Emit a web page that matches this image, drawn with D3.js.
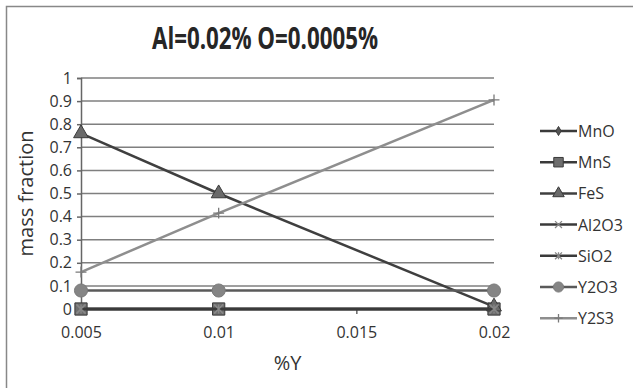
<!DOCTYPE html>
<html>
<head>
<meta charset="utf-8">
<script src="https://cdn.jsdelivr.net/npm/d3@7"></script>
<style>
  html, body { margin: 0; padding: 0; background: #fff; }
  svg { display: block; }
  text { font-family: "Open Sans", "DejaVu Sans", sans-serif; fill: #333; }
</style>
</head>
<body>
<svg id="chart" width="633" height="388"></svg>
<script>
// %Y content
const xValues = [0.005, 0.01, 0.02];
const xTicks = [0.005, 0.01, 0.015, 0.02];
const yTicks = [0, 0.1, 0.2, 0.3, 0.4, 0.5, 0.6, 0.7, 0.8, 0.9, 1];

// Mass fraction of each inclusion phase
const MnO   = [0, 0, 0];
const MnS   = [0, 0, 0];
const FeS   = [0.76, 0.50, 0.01];
const Al2O3 = [0, 0, 0];
const SiO2  = [0, 0, 0];
const Y2O3  = [0.08, 0.08, 0.08];
const Y2S3  = [0.16, 0.415, 0.905];

const seriesNames = ["MnO", "MnS", "FeS", "Al2O3", "SiO2", "Y2O3", "Y2S3"];
const seriesValues = [MnO, MnS, FeS, Al2O3, SiO2, Y2O3, Y2S3];

const styles = {
  MnO:   { line: "#3a3a3a", width: 2.5, marker: "diamond", fill: "#555", size: 40 },
  MnS:   { line: "#3a3a3a", width: 2.5, marker: "square",  fill: "#6e6e6e", size: 150 },
  FeS:   { line: "#3f3f3f", width: 2.5, marker: "triangle", fill: "#6a6a6a", size: 95 },
  Al2O3: { line: "#3a3a3a", width: 2.5, marker: "x",       fill: "none", size: 80 },
  SiO2:  { line: "#3a3a3a", width: 2.5, marker: "star",    fill: "none", size: 80 },
  Y2O3:  { line: "#5a5a5a", width: 2.5, marker: "circle",  fill: "#858585", size: 135 },
  Y2S3:  { line: "#8e8e8e", width: 2.5, marker: "plus",    fill: "none", size: 120 }
};

const svg = d3.select("#chart");

// outer frame (left and top edges shown)
svg.append("path")
  .attr("d", "M6.5,388 V6.5 H633")
  .attr("fill", "none").attr("stroke", "#888").attr("stroke-width", 1.5);

const x = d3.scaleLinear().domain([0.005, 0.02]).range([81, 494]);
const y = d3.scaleLinear().domain([0, 1]).range([309, 78]);

// title
svg.append("text")
  .attr("x", 265).attr("y", 49)
  .attr("text-anchor", "middle")
  .attr("textLength", 226).attr("lengthAdjust", "spacingAndGlyphs")
  .style("font-family", "'Open Sans', sans-serif")
  .style("font-weight", "bold").style("font-size", "30px").style("fill", "#262626")
  .text("Al=0.02% O=0.0005%");

// horizontal gridlines
svg.append("g").selectAll("line").data(yTicks.filter(d => d > 0)).join("line")
  .attr("x1", x(0.005)).attr("x2", x(0.02))
  .attr("y1", d => y(d)).attr("y2", d => y(d))
  .attr("stroke", "#7f7f7f").attr("stroke-width", 1.5);

// y axis
const yAxis = d3.axisLeft(y).tickValues(yTicks).tickSize(4).tickPadding(5)
  .tickFormat(d => d3.format("~g")(d));
const gy = svg.append("g").attr("transform", `translate(${x(0.005)},0)`).call(yAxis);
gy.select(".domain").attr("stroke", "#666").attr("stroke-width", 1.5);
gy.selectAll(".tick line").attr("stroke", "#666").attr("stroke-width", 1.5);
gy.selectAll("text").style("font-size", "16px").style("fill", "#333")
  .style("font-family", "'Open Sans', sans-serif");

// x axis
const xAxis = d3.axisBottom(x).tickValues(xTicks).tickSize(5).tickPadding(13)
  .tickFormat(d => d3.format("~g")(d));
const gx = svg.append("g").attr("transform", `translate(0,${y(0)})`).call(xAxis);
gx.select(".domain").attr("stroke", "#666").attr("stroke-width", 1.5);
gx.selectAll(".tick line").attr("stroke", "#666").attr("stroke-width", 1.5);
gx.selectAll("text").style("font-size", "16px").style("fill", "#333")
  .style("font-family", "'Open Sans', sans-serif");

// axis titles
svg.append("text")
  .attr("transform", `translate(33,${(y(0) + y(1)) / 2}) rotate(-90)`)
  .attr("text-anchor", "middle")
  .style("font-size", "20px").style("fill", "#333")
  .text("mass fraction");
svg.append("text")
  .attr("x", x(0.0125)).attr("y", 370)
  .attr("text-anchor", "middle")
  .style("font-size", "20px").style("fill", "#333")
  .text("%Y");

// marker drawing
function drawMarker(g, kind, cx, cy, st) {
  const s = st.size;
  if (kind === "diamond" || kind === "square" || kind === "triangle" || kind === "circle") {
    const type = { diamond: d3.symbolDiamond, square: d3.symbolSquare,
                   triangle: d3.symbolTriangle, circle: d3.symbolCircle }[kind];
    g.append("path")
      .attr("d", d3.symbol().type(type).size(s)())
      .attr("transform", `translate(${cx},${cy})`)
      .attr("fill", st.fill).attr("stroke", kind === "circle" ? "#7a7a7a" : "#3a3a3a")
      .attr("stroke-width", 1);
  } else {
    const r = Math.sqrt(s) / 2;
    let d = "";
    if (kind === "x") d = `M${-r},${-r}L${r},${r}M${-r},${r}L${r},${-r}`;
    if (kind === "plus") d = `M${-r},0L${r},0M0,${-r}L0,${r}`;
    if (kind === "star") d = `M${-r},${-r}L${r},${r}M${-r},${r}L${r},${-r}M0,${-r}L0,${r}`;
    g.append("path").attr("d", d).attr("transform", `translate(${cx},${cy})`)
      .attr("fill", "none").attr("stroke", kind === "plus" ? "#7a7a7a" : "#888")
      .attr("stroke-width", 1.3);
  }
}

const line = d3.line().x((d, i) => x(xValues[i])).y(d => y(d));

// series lines and markers
const plot = svg.append("g");
seriesNames.forEach((name, k) => {
  const st = styles[name];
  const vals = seriesValues[k];
  plot.append("path").datum(vals).attr("d", line)
    .attr("fill", "none").attr("stroke", st.line).attr("stroke-width", st.width);
  const mg = plot.append("g");
  vals.forEach((v, i) => drawMarker(mg, st.marker, x(xValues[i]), y(v), st));
});

// legend
const legend = svg.append("g");
seriesNames.forEach((name, k) => {
  const st = styles[name];
  const ly = 131 + k * 31.2;
  const lg = legend.append("g");
  lg.append("line").attr("x1", 540).attr("x2", 577).attr("y1", ly).attr("y2", ly)
    .attr("stroke", st.line).attr("stroke-width", st.width);
  const ms = Object.assign({}, st, { size: st.size * 0.6 });
  drawMarker(lg, st.marker, 558.5, ly, ms);
  lg.append("text").attr("x", 578).attr("y", ly + 6)
    .style("font-size", "16px").style("fill", "#333")
    .text(name);
});
</script>
</body>
</html>
